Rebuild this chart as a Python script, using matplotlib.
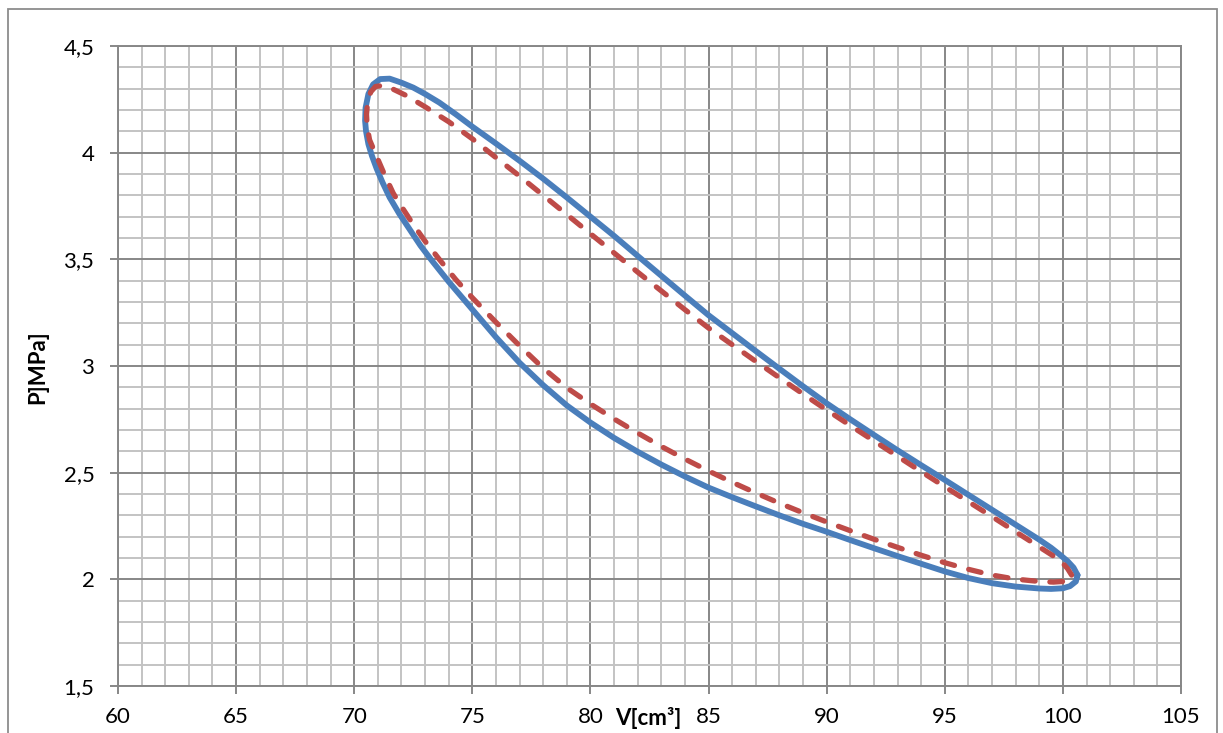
import matplotlib
matplotlib.use("Agg")
import matplotlib.pyplot as plt
from matplotlib.ticker import MultipleLocator, FuncFormatter
from matplotlib.patches import Rectangle

plt.rcParams['font.family'] = ['Lato', 'DejaVu Sans']

# Blue loop (solid), V [cm3], P [MPa]; starts at right tip, upper branch first
blue_v = [100.62, 100.45, 100.2, 99.9, 99.5, 99.0, 98.0, 97.0, 96.0, 95.0, 94.0, 93.0,
          92.0, 91.0, 90.0, 89.0, 88.0, 87.0, 86.0, 85.0, 84.0, 83.0, 82.0, 81.0,
          80.0, 79.0, 78.0, 77.0, 76.0, 75.0, 74.3, 73.6, 73.0, 72.5, 72.0, 71.5,
          71.1, 70.8, 70.6, 70.48, 70.46, 70.5, 70.6, 70.75, 70.95, 71.2, 71.5, 71.9,
          72.35, 72.8, 73.28, 74.0, 75.0, 76.0, 77.0, 78.0, 79.0, 80.0, 81.0, 82.0,
          83.0, 84.0, 85.0, 86.0, 87.0, 88.0, 89.0, 90.0, 91.0, 92.0, 93.0, 94.0,
          95.0, 96.0, 97.0, 98.0, 99.0, 99.5, 100.0, 100.3, 100.55, 100.62]
blue_p = [2.02, 2.055, 2.085, 2.113, 2.148, 2.186, 2.256, 2.326, 2.396, 2.466, 2.535, 2.605,
          2.677, 2.75, 2.825, 2.905, 2.987, 3.07, 3.154, 3.238, 3.33, 3.423, 3.516, 3.61,
          3.70, 3.79, 3.878, 3.962, 4.043, 4.122, 4.18, 4.235, 4.275, 4.305, 4.328, 4.347,
          4.345, 4.32, 4.275, 4.21, 4.15, 4.10, 4.04, 3.985, 3.925, 3.86, 3.79, 3.715,
          3.64, 3.565, 3.495, 3.395, 3.265, 3.135, 3.015, 2.91, 2.815, 2.735, 2.663, 2.598,
          2.538, 2.482, 2.43, 2.385, 2.342, 2.30, 2.26, 2.223, 2.184, 2.146, 2.109, 2.073,
          2.037, 2.006, 1.982, 1.966, 1.957, 1.955, 1.958, 1.968, 1.99, 2.02]

# Red loop (dashed)
red_v = [100.37, 100.2, 99.9, 99.0, 98.0, 97.0, 96.0, 95.0, 94.0, 93.0, 92.0, 91.0,
         90.0, 89.0, 88.0, 87.0, 86.0, 85.0, 84.0, 83.0, 82.0, 81.0, 80.0, 79.0,
         78.0, 77.0, 76.0, 75.0, 74.0, 73.0, 72.2, 71.6, 71.2, 70.9, 70.7, 70.57,
         70.52, 70.55, 70.65, 70.88, 71.25, 71.65, 72.0, 72.5, 73.0, 73.6, 74.3, 75.0,
         76.0, 77.0, 78.0, 79.0, 80.0, 81.0, 82.0, 83.0, 84.0, 85.0, 86.0, 87.0,
         88.0, 89.0, 90.0, 91.0, 92.0, 93.0, 94.0, 95.0, 96.0, 97.0, 98.0, 99.0,
         99.6, 100.0, 100.25, 100.37]
red_p = [2.02, 2.05, 2.088, 2.152, 2.223, 2.294, 2.364, 2.434, 2.505, 2.577, 2.649, 2.721,
         2.794, 2.869, 2.945, 3.022, 3.10, 3.178, 3.264, 3.352, 3.44, 3.53, 3.62, 3.71,
         3.80, 3.89, 3.977, 4.065, 4.145, 4.215, 4.268, 4.30, 4.315, 4.31, 4.285, 4.24,
         4.18, 4.12, 4.06, 4.00, 3.905, 3.81, 3.7475, 3.663, 3.585, 3.50, 3.405, 3.32,
         3.205, 3.095, 2.99, 2.898, 2.822, 2.752, 2.686, 2.623, 2.564, 2.508, 2.455, 2.405,
         2.357, 2.312, 2.269, 2.228, 2.188, 2.15, 2.113, 2.078, 2.047, 2.02, 2.001, 1.99,
         1.987, 1.99, 2.0, 2.02]

x_label = "V[cm³]"
y_label = "P]MPa]"

W, H = 1223, 733
fig = plt.figure(figsize=(W / 100, H / 100), dpi=100)
ax = fig.add_axes([118 / W, 1 - 686 / H, (1181 - 118) / W, (686 - 46) / H])

# outer chart frame (open at the bottom edge of the picture)
fig.patches.append(Rectangle((8 / W, -0.05), (1217 - 8) / W, (1 - 9 / H) + 0.05,
                             transform=fig.transFigure, fill=False,
                             edgecolor='#8c8c8c', linewidth=1.3))

ax.set_xlim(60, 105)
ax.set_ylim(1.5, 4.5)
ax.xaxis.set_major_locator(MultipleLocator(5))
ax.xaxis.set_minor_locator(MultipleLocator(1))
ax.yaxis.set_major_locator(MultipleLocator(0.5))
ax.yaxis.set_minor_locator(MultipleLocator(0.1))

ax.grid(which='minor', color='#c3c3c3', linewidth=1.4)
ax.grid(which='major', color='#878787', linewidth=1.4)
ax.set_axisbelow(True)

for s in ax.spines.values():
    s.set_color('#878787')
    s.set_linewidth(1.4)

fmt = FuncFormatter(lambda v, pos: (f"{v:g}").replace('.', ','))
ax.xaxis.set_major_formatter(fmt)
ax.yaxis.set_major_formatter(fmt)
ax.tick_params(which='major', direction='out', length=6, width=1.4, color='#878787',
               labelsize=16, labelcolor='black')
ax.tick_params(axis='y', pad=11)
ax.tick_params(axis='x', pad=9)
ax.tick_params(which='minor', length=0)

ax.plot(blue_v, blue_p, color='#4A7EBB', linewidth=4.2, solid_joinstyle='round',
        solid_capstyle='round', zorder=3)
ax.plot(red_v, red_p, color='#BE4B48', linewidth=3.8, linestyle=(0, (2.4, 2.8)),
        dash_capstyle='round', dash_joinstyle='round', zorder=4)

fig.text(648 / W, 1 - 718 / H, x_label, fontsize=16, fontweight='bold',
         ha='center', va='center')
fig.text(38 / W, 1 - 367 / H, y_label, fontsize=16, fontweight='bold',
         ha='center', va='center', rotation=90)

fig.savefig('out.png', dpi=100)
